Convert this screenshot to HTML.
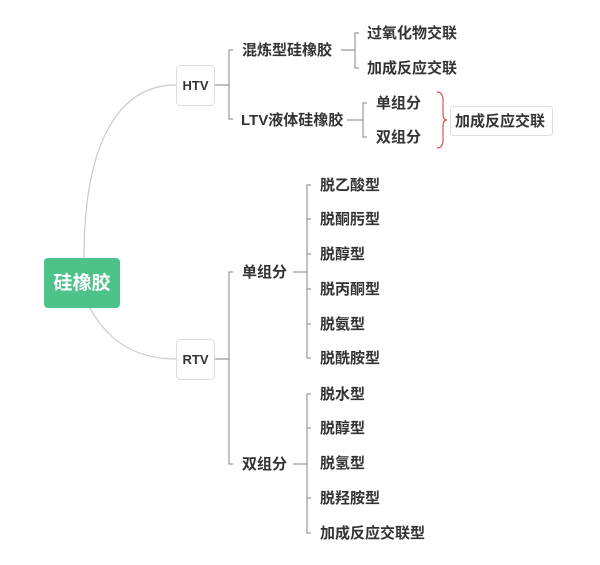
<!DOCTYPE html>
<html><head><meta charset="utf-8"><style>
html,body{margin:0;padding:0;background:#fff;}
svg text{font-family:"Liberation Sans","Noto Sans CJK SC",sans-serif;font-weight:bold;fill:#333;font-size:15px;}
</style></head><body>
<svg width="600" height="560" viewBox="0 0 600 560" xmlns="http://www.w3.org/2000/svg">
<g fill="none" stroke="#c8c8c8" stroke-width="1.2">
<path d="M84 258 C 84 140, 120 85, 176 85"/>
<path d="M90 308 C 110 345, 140 359, 176 359"/>
</g>
<g fill="none" stroke="#999" stroke-width="1.2">
<path d="M214 85 H229 M233 50 H229 V119 H233"/>
<path d="M341 50 H355 M359 33 H355 V68 H359"/>
<path d="M347 120 H363 M367 103 H363 V137 H367"/>
<path d="M214 359 H229 M233 272 H229 V464 H233"/>
<path d="M293 272 H307 M311 185 H307 V358 H311 M307 219 H311 M307 254 H311 M307 289 H311 M307 324 H311"/>
<path d="M293 464 H307 M311 394 H307 V533 H311 M307 428 H311 M307 498 H311"/>
</g>
<path d="M437 92 Q443 92 443 100 V114 Q443 120 447 120 Q443 120 443 126 V140 Q443 148 437 148" fill="none" stroke="#d9534f" stroke-width="1.2"/>
<rect x="44" y="258" width="76" height="50" rx="4" fill="#4dc38a"/>
<text x="82" y="289" text-anchor="middle" style="fill:#fff;font-size:19px">硅橡胶</text>
<rect x="176.5" y="65.5" width="38" height="40" rx="4" fill="#fff" stroke="#ddd"/>
<text x="195.5" y="90" text-anchor="middle" style="font-size:13px">HTV</text>
<rect x="176.5" y="339.5" width="38" height="40" rx="4" fill="#fff" stroke="#ddd"/>
<text x="195.5" y="364" text-anchor="middle" style="font-size:13px">RTV</text>
<rect x="450.5" y="106.5" width="102" height="29" rx="3" fill="#fff" stroke="#ddd"/>
<text x="455" y="126">加成反应交联</text>
<text x="242" y="55">混炼型硅橡胶</text>
<text x="241" y="125">LTV液体硅橡胶</text>
<text x="367" y="38">过氧化物交联</text>
<text x="367" y="73">加成反应交联</text>
<text x="376" y="108">单组分</text>
<text x="376" y="142">双组分</text>
<text x="242" y="277">单组分</text>
<text x="242" y="469">双组分</text>
<text x="320" y="190">脱乙酸型</text>
<text x="320" y="224">脱酮肟型</text>
<text x="320" y="259">脱醇型</text>
<text x="320" y="294">脱丙酮型</text>
<text x="320" y="329">脱氨型</text>
<text x="320" y="363">脱酰胺型</text>
<text x="320" y="399">脱水型</text>
<text x="320" y="433">脱醇型</text>
<text x="320" y="468">脱氢型</text>
<text x="320" y="503">脱羟胺型</text>
<text x="320" y="538">加成反应交联型</text>
</svg>
</body></html>
